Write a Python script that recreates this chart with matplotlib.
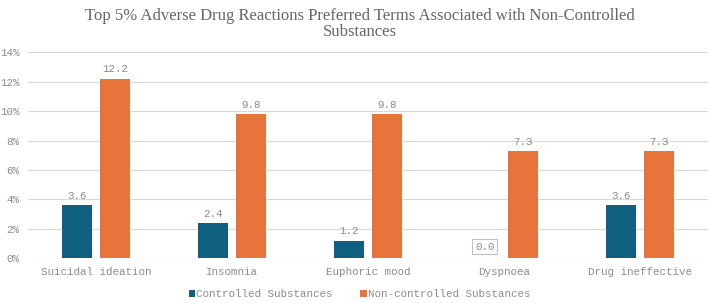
import matplotlib
matplotlib.use("Agg")
import matplotlib.pyplot as plt
import numpy as np
from matplotlib.ticker import FuncFormatter

categories = ["Suicidal ideation", "Insomnia", "Euphoric mood", "Dyspnoea", "Drug ineffective"]
controlled = [3.6, 2.4, 1.2, 0.0, 3.6]
non_controlled = [12.2, 9.8, 9.8, 7.3, 7.3]
series_names = ["Controlled Substances", "Non-controlled Substances"]
yticks = [0, 2, 4, 6, 8, 10, 12, 14]

BLUE = "#0F5F80"
ORANGE = "#E8743B"
GRAY = "#8C8C8C"
MONO = ["Liberation Mono", "DejaVu Sans Mono"]

fig = plt.figure(figsize=(7.09, 3.03), dpi=100)
ax = fig.add_axes([0.0395, 0.1475, 0.959, 0.6795])

x = np.arange(len(categories))
w = 0.22
off = 0.142
b1 = ax.bar(x - off, controlled, w, color=BLUE, zorder=3, label=series_names[0])
b2 = ax.bar(x + off, non_controlled, w, color=ORANGE, zorder=3, label=series_names[1])

for bars, vals in ((b1, controlled), (b2, non_controlled)):
    for r, v in zip(bars, vals):
        if v == 0:
            ax.text(r.get_x() + r.get_width() / 2, v + 0.45, f"{v:.1f}", ha="center", va="bottom",
                    fontsize=7.8, color=GRAY, family=MONO, zorder=4,
                    bbox=dict(boxstyle="square,pad=0.25", fc="white", ec="#BFBFBF", lw=0.8))
        else:
            ax.text(r.get_x() + r.get_width() / 2, v + 0.3, f"{v:.1f}", ha="center", va="bottom",
                    fontsize=7.8, color=GRAY, family=MONO, zorder=4)

ax.set_xlim(-0.5, len(categories) - 0.5)
ax.set_ylim(0, 14)
ax.set_yticks(yticks)
ax.yaxis.set_major_formatter(FuncFormatter(lambda v, p: f"{v:.0f}%"))
ax.set_xticks(x)
ax.set_xticklabels(categories)
ax.grid(axis="y", color="#D9D9D9", lw=0.8, zorder=0)
for s in ax.spines.values():
    s.set_visible(False)
ax.tick_params(axis="both", length=0, colors=GRAY, labelsize=7.8)
ax.tick_params(axis="x", pad=6)
ax.tick_params(axis="y", pad=6)
for lab in ax.get_xticklabels() + ax.get_yticklabels():
    lab.set_family(MONO)

fig.suptitle("Top 5% Adverse Drug Reactions Preferred Terms Associated with Non-Controlled\nSubstances",
             x=0.507, y=0.975, fontsize=12, color="#666666", family=["Liberation Serif", "DejaVu Serif"],
             linespacing=1.0)

leg = fig.legend(handles=[b1, b2], loc="lower center", bbox_to_anchor=(0.507, -0.02), ncol=2, frameon=False,
                 prop={"family": MONO, "size": 7.8}, handlelength=0.6, handleheight=0.6, handletextpad=0.1,
                 columnspacing=2.5, labelcolor=GRAY)

fig.savefig("out.png", dpi=100)
